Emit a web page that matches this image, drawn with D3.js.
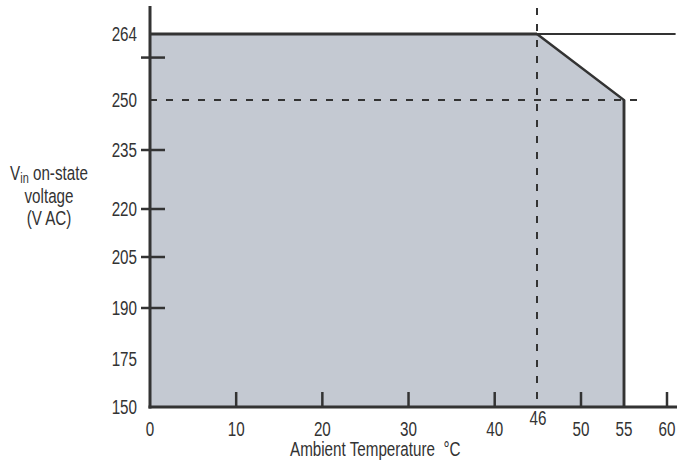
<!DOCTYPE html>
<html>
<head>
<meta charset="utf-8">
<script src="https://cdn.jsdelivr.net/npm/d3@7"></script>
<style>
  html, body { margin: 0; padding: 0; background: #fff; }
  svg text { font-family: "Liberation Sans", Arial, sans-serif; fill: #333; }
</style>
</head>
<body>
<div id="chart"></div>
<script>
// Datos ////////////////////////////////////////////////////////////////

const xLabels   = [0, 10, 20, 30, 40, 50, 55, 60];
const xTicks    = [10, 20, 30, 40, 50, 60];
const kneeTemp  = 46;
const maxTemp   = 55;

const yLabels   = [150, 175, 190, 205, 220, 235, 250, 264];
const yTicks    = [190, 205, 220, 235, 259];
const kneeVolt  = 250;

// zona de operación (temp °C, V AC)
const envelope  = [[0, 264], [46, 264], [55, 250], [55, 150], [0, 150]];
const limit264  = [[46, 264], [61, 264]];

// SVG setup ////////////////////////////////////////////////////////////

const width = 679, height = 462;

const svg = d3.select('#chart').append('svg')
  .attr('viewBox', [0, 0, width, height])
  .attr('width', width)
  .attr('height', height);

// la escala del original no es lineal en Y, se arma por tramos
const x = d3.scaleLinear()
  .domain([0, 40, 46, 50, 60])
  .range([150, 494.7, 537, 581, 667]);

const y = d3.scaleLinear()
  .domain([150, 175, 190, 205, 220, 235, 250, 264])
  .range([407, 359, 308, 257, 209, 150, 100, 34]);

const ink = '#333';
const fillColor = '#c4c9d2';
const narrow = 0.78;   // fuente condensada: Liberation Sans comprimida en X
const fs = 19.5;

const area   = svg.append('g').attr('id', 'area');
const guides = svg.append('g').attr('id', 'guides');
const axes   = svg.append('g').attr('id', 'axes');
const labels = svg.append('g').attr('id', 'labels');

const line = d3.line().x(d => x(d[0])).y(d => y(d[1]));

const at = (px, py) => `translate(${px},${py}) scale(${narrow},1)`;

// Área /////////////////////////////////////////////////////////////////

area.append('path')
  .attr('d', line(envelope) + 'Z')
  .attr('fill', fillColor)
  .attr('stroke', 'none');

// borde superior y derating
area.append('path')
  .attr('d', line(envelope.slice(0, 2)))
  .attr('fill', 'none').attr('stroke', ink).attr('stroke-width', 3);

area.append('path')
  .attr('d', line(limit264))
  .attr('fill', 'none').attr('stroke', ink).attr('stroke-width', 2);

area.append('path')
  .attr('d', line(envelope.slice(1, 4)))
  .attr('fill', 'none').attr('stroke', ink).attr('stroke-width', 2.5);

// Guías punteadas //////////////////////////////////////////////////////

guides.append('line')
  .attr('x1', x(0)).attr('x2', x(57.5))
  .attr('y1', y(kneeVolt)).attr('y2', y(kneeVolt))
  .attr('stroke', ink).attr('stroke-width', 2)
  .attr('stroke-dasharray', '7,9');

guides.append('line')
  .attr('x1', x(kneeTemp)).attr('x2', x(kneeTemp))
  .attr('y1', 8).attr('y2', 403)
  .attr('stroke', ink).attr('stroke-width', 2)
  .attr('stroke-dasharray', '7,9');

// Ejes /////////////////////////////////////////////////////////////////

axes.append('line')
  .attr('x1', x(0)).attr('x2', x(0))
  .attr('y1', 6).attr('y2', y(150) + 1.5)
  .attr('stroke', ink).attr('stroke-width', 3);

axes.append('line')
  .attr('x1', x(0) - 1.5).attr('x2', 677)
  .attr('y1', y(150)).attr('y2', y(150))
  .attr('stroke', ink).attr('stroke-width', 3);

axes.selectAll('line.ytick')
  .data(yTicks)
  .join('line')
  .attr('class', 'ytick')
  .attr('x1', x(0) - 9).attr('x2', x(0) + 15)
  .attr('y1', d => y(d)).attr('y2', d => y(d))
  .attr('stroke', ink).attr('stroke-width', 2.5);

axes.selectAll('line.xtick')
  .data(xTicks)
  .join('line')
  .attr('class', 'xtick')
  .attr('x1', d => x(d)).attr('x2', d => x(d))
  .attr('y1', y(150) - 15).attr('y2', y(150))
  .attr('stroke', ink).attr('stroke-width', 2.5);

axes.append('line')
  .attr('x1', x(maxTemp)).attr('x2', x(maxTemp))
  .attr('y1', y(kneeVolt)).attr('y2', y(150))
  .attr('stroke', ink).attr('stroke-width', 2.5);

// Etiquetas ////////////////////////////////////////////////////////////

labels.selectAll('text.ylab')
  .data(yLabels)
  .join('text')
  .attr('class', 'ylab')
  .attr('transform', d => at(137, y(d)))
  .attr('dy', '0.36em')
  .attr('text-anchor', 'end')
  .attr('font-size', fs)
  .text(d => d);

labels.selectAll('text.xlab')
  .data(xLabels)
  .join('text')
  .attr('class', 'xlab')
  .attr('transform', d => at(x(d), 436))
  .attr('text-anchor', 'middle')
  .attr('font-size', fs)
  .text(d => d);

labels.append('text')
  .attr('transform', at(x(kneeTemp) + 1, 425))
  .attr('text-anchor', 'middle')
  .attr('font-size', fs)
  .text(kneeTemp);

labels.append('text')
  .attr('transform', at(290, 456))
  .attr('font-size', fs)
  .attr('xml:space', 'preserve')
  .text('Ambient Temperature  °C');

const ytitle = labels.append('text')
  .attr('transform', at(49, 0))
  .attr('text-anchor', 'middle')
  .attr('font-size', fs);

const l1 = ytitle.append('tspan').attr('x', 0).attr('y', 180);
l1.append('tspan').text('V');
l1.append('tspan').attr('font-size', 14).attr('dy', 3.5).text('in');
l1.append('tspan').attr('dy', -3.5).text(' on-state');

ytitle.append('tspan').attr('x', 0).attr('y', 203).text('voltage');
ytitle.append('tspan').attr('x', 0).attr('y', 225).text('(V AC)');
</script>
</body>
</html>
